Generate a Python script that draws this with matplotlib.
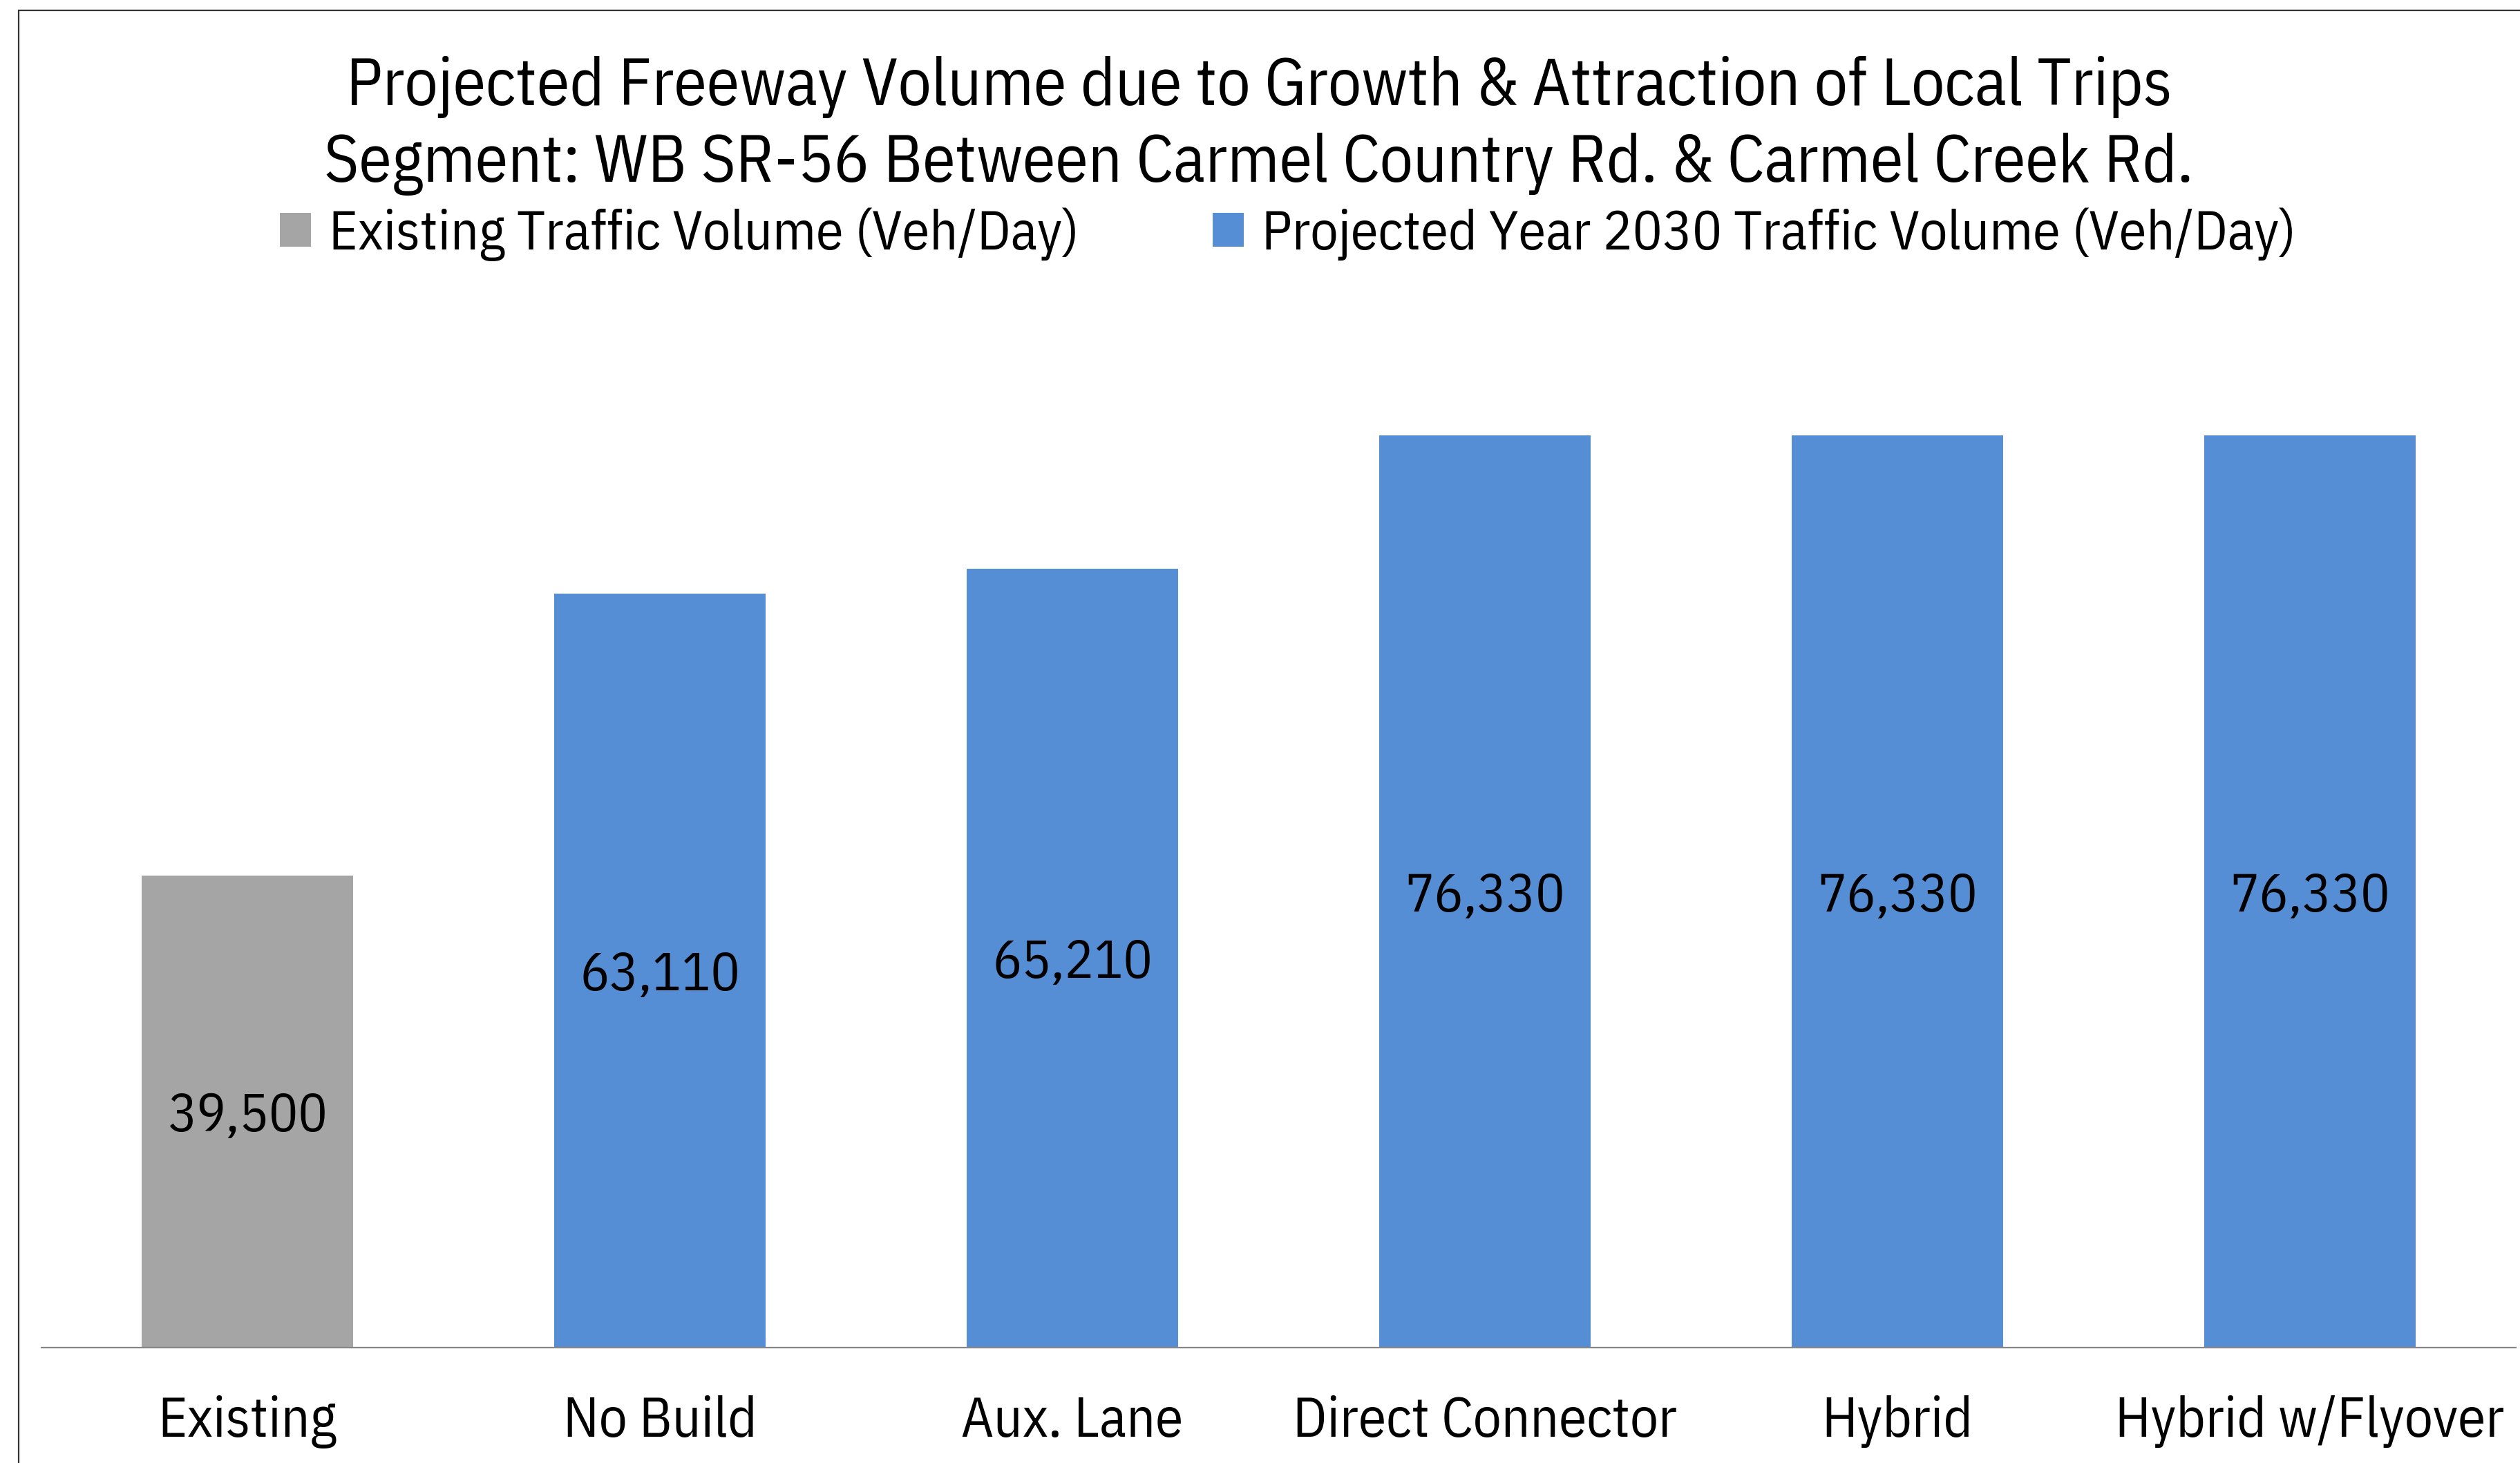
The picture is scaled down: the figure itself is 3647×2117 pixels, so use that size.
import matplotlib
matplotlib.use("Agg")
import matplotlib.pyplot as plt
from matplotlib.patches import Rectangle

FONT = ['IBM Plex Sans Condensed', 'Liberation Sans', 'DejaVu Sans']
plt.rcParams['font.family'] = FONT

categories = ["Existing", "No Build", "Aux. Lane", "Direct Connector", "Hybrid", "Hybrid w/Flyover"]
values = [39500, 63110, 65210, 76330, 76330, 76330]
series_of_bar = ["existing", "projected", "projected", "projected", "projected", "projected"]
legend_labels = {"existing": "Existing Traffic Volume (Veh/Day)",
                 "projected": "Projected Year 2030 Traffic Volume (Veh/Day)"}
title_lines = ["Projected Freeway Volume due to Growth & Attraction of Local Trips",
               "Segment: WB SR-56 Between Carmel Country Rd. & Carmel Creek Rd."]

colors = {"existing": "#A5A5A5", "projected": "#558ED5"}

W, H = 3648, 2117
fig = plt.figure(figsize=(W / 100, H / 100), dpi=100)
fig.patch.set_facecolor("white")

# axes placement (pixels)
ax_left, ax_right = 59.5, 3641.5
ax_bottom_px = 1950
ymax = 90000
px_per_unit = 0.017287
ax_top_px = ax_bottom_px - ymax * px_per_unit
ax = fig.add_axes([ax_left / W, 1 - ax_bottom_px / H, (ax_right - ax_left) / W,
                   (ax_bottom_px - ax_top_px) / H])

x = list(range(len(categories)))
bars = ax.bar(x, values, width=0.513, color=[colors[s] for s in series_of_bar], zorder=2)
ax.set_xlim(-0.5, len(categories) - 0.5)
ax.set_ylim(0, ymax)

for xi, v in zip(x, values):
    ax.text(xi, v / 2, f"{v:,}", ha="center", va="center_baseline", fontsize=56.5,
            color="black", zorder=3)

for s in ["top", "right", "left"]:
    ax.spines[s].set_visible(False)
ax.spines["bottom"].set_color("#868686")
ax.spines["bottom"].set_linewidth(1.6)
ax.spines["bottom"].set_zorder(3)
ax.set_yticks([])
ax.set_xticks(x)
ax.set_xticklabels(categories, fontsize=58.5)
ax.tick_params(axis="x", length=0, pad=50)
ax.set_facecolor("none")

# titles
fig.text(0.4995, 1 - 152 / H, title_lines[0], ha="center", va="baseline", fontsize=69)
fig.text(0.4995, 1 - 263 / H, title_lines[1], ha="center", va="baseline", fontsize=69)

# legend
handles = [bars[0], bars[1]]
labels = [legend_labels["existing"], legend_labels["projected"]]
fig.legend(handles, labels, loc="center left", bbox_to_anchor=(405 / W, 1 - 339 / H),
           ncol=2, frameon=False, fontsize=57.6, handlelength=0.56, handleheight=0.56,
           handletextpad=0.33, columnspacing=2.42, borderpad=0, borderaxespad=0)

# outer chart border (cropped on right/bottom)
fig.patches.append(Rectangle((27 / W, -0.05), 1.2, 1 - 15 / H + 0.05,
                             transform=fig.transFigure, fill=False,
                             edgecolor="#333333", linewidth=1.6, zorder=10))

fig.savefig("out.png", dpi=100, facecolor="white")
